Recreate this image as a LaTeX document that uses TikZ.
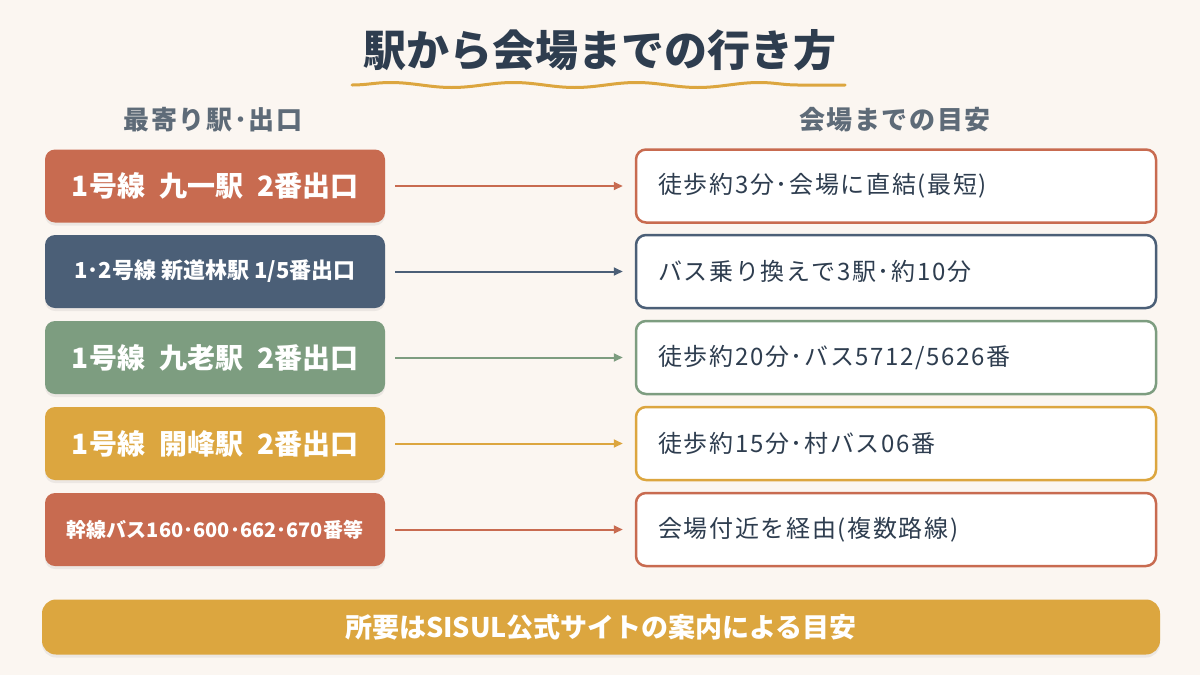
\documentclass[tikz,border=0pt]{standalone}
\usepackage{fontspec}
\setmainfont{Noto Sans CJK JP}
\usetikzlibrary{arrows.meta,positioning,decorations.pathmorphing,shadows}
\definecolor{paper}{HTML}{FBF6F1}
\definecolor{ink}{HTML}{2E3D4F}
\definecolor{muted}{HTML}{5E6B78}
\definecolor{terra}{HTML}{C86B50}
\definecolor{slate}{HTML}{4B5F77}
\definecolor{sage}{HTML}{7D9D80}
\definecolor{amber}{HTML}{DCA63F}
\newcommand{\fsz}[1]{\fontsize{#1}{#1}\selectfont}
\newcommand{\spaced}[1]{\addfontfeatures{LetterSpace=#1}}

\tikzset{
  title/.style={text=ink,font=\fsz{43}\bfseries},
  head/.style={text=muted,font=\fsz{26}\bfseries\spaced{6}},
  stn/.style={rounded corners=10pt,minimum width=340pt,minimum height=73pt,
    text=white,font=\fsz{28}\bfseries,
    drop shadow={opacity=0.12,shadow xshift=0pt,shadow yshift=-3pt}},
  small/.style={font=\fsz{22}\bfseries},
  dest/.style={rounded corners=10pt,fill=white,line width=2.5pt,
    minimum height=73pt,inner xsep=22pt,text width=476pt,align=left,
    text=ink,font=\fsz{24}\spaced{7}},
  route/.style={->,line width=2pt,shorten <=10pt,shorten >=12pt},
  note/.style={rounded corners=14pt,fill=amber,minimum width=1118pt,minimum height=55pt,
    text=white,font=\fsz{27}\bfseries,
    drop shadow={opacity=0.12,shadow xshift=0pt,shadow yshift=-3pt}}
}

\begin{document}
\begin{tikzpicture}[x=1pt,y=-1pt,>={Triangle[length=9pt,width=8pt]}]
\fill[paper] (0,0) rectangle (1200,675);
\useasboundingbox (0,0) rectangle (1200,675);
% title with wavy line
\node[title] (title) at (600,50) {駅から会場までの行き方};
\draw[amber,line width=3pt,line cap=round,decorate,
  decoration={snake,amplitude=2.5pt,segment length=123pt}] (352,85) -- (845,85);
% column heads
\node[head] (hl) at (213,120) {最寄り駅･出口};
\node[head] (hr) at (895,120) {会場までの目安};
% stations
\node[stn,fill=terra] (s1) at (215,186) {1号線\hspace{0.5em}九一駅\hspace{0.5em}2番出口};
\node[stn,small,fill=slate] (s2) at (215,271.5) {1･2号線 新道林駅 1/5番出口};
\node[stn,fill=sage] (s3) at (215,357.5) {1号線\hspace{0.5em}九老駅\hspace{0.5em}2番出口};
\node[stn,fill=amber] (s4) at (215,443.5) {1号線\hspace{0.5em}開峰駅\hspace{0.5em}2番出口};
\node[stn,small,font=\fsz{20}\bfseries,fill=terra] (s5) at (215,529.5) {幹線バス160･600･662･670番等};
% what it takes from there
\node[dest,draw=terra] (d1) at (896,186) {徒歩約3分･会場に直結(最短)};
\node[dest,draw=slate] (d2) at (896,271.5) {バス乗り換えで3駅･約10分};
\node[dest,draw=sage] (d3) at (896,357.5) {徒歩約20分･バス5712/5626番};
\node[dest,draw=amber] (d4) at (896,443.5) {徒歩約15分･村バス06番};
\node[dest,draw=terra] (d5) at (896,529.5) {会場付近を経由(複数路線)};
\draw[route,terra] (s1) -- (d1);
\draw[route,slate] (s2) -- (d2);
\draw[route,sage] (s3) -- (d3);
\draw[route,amber] (s4) -- (d4);
\draw[route,terra] (s5) -- (d5);
% footnote bar
\node[note] (note) at (601,627) {所要はSISUL公式サイトの案内による目安};
\end{tikzpicture}
\end{document}
